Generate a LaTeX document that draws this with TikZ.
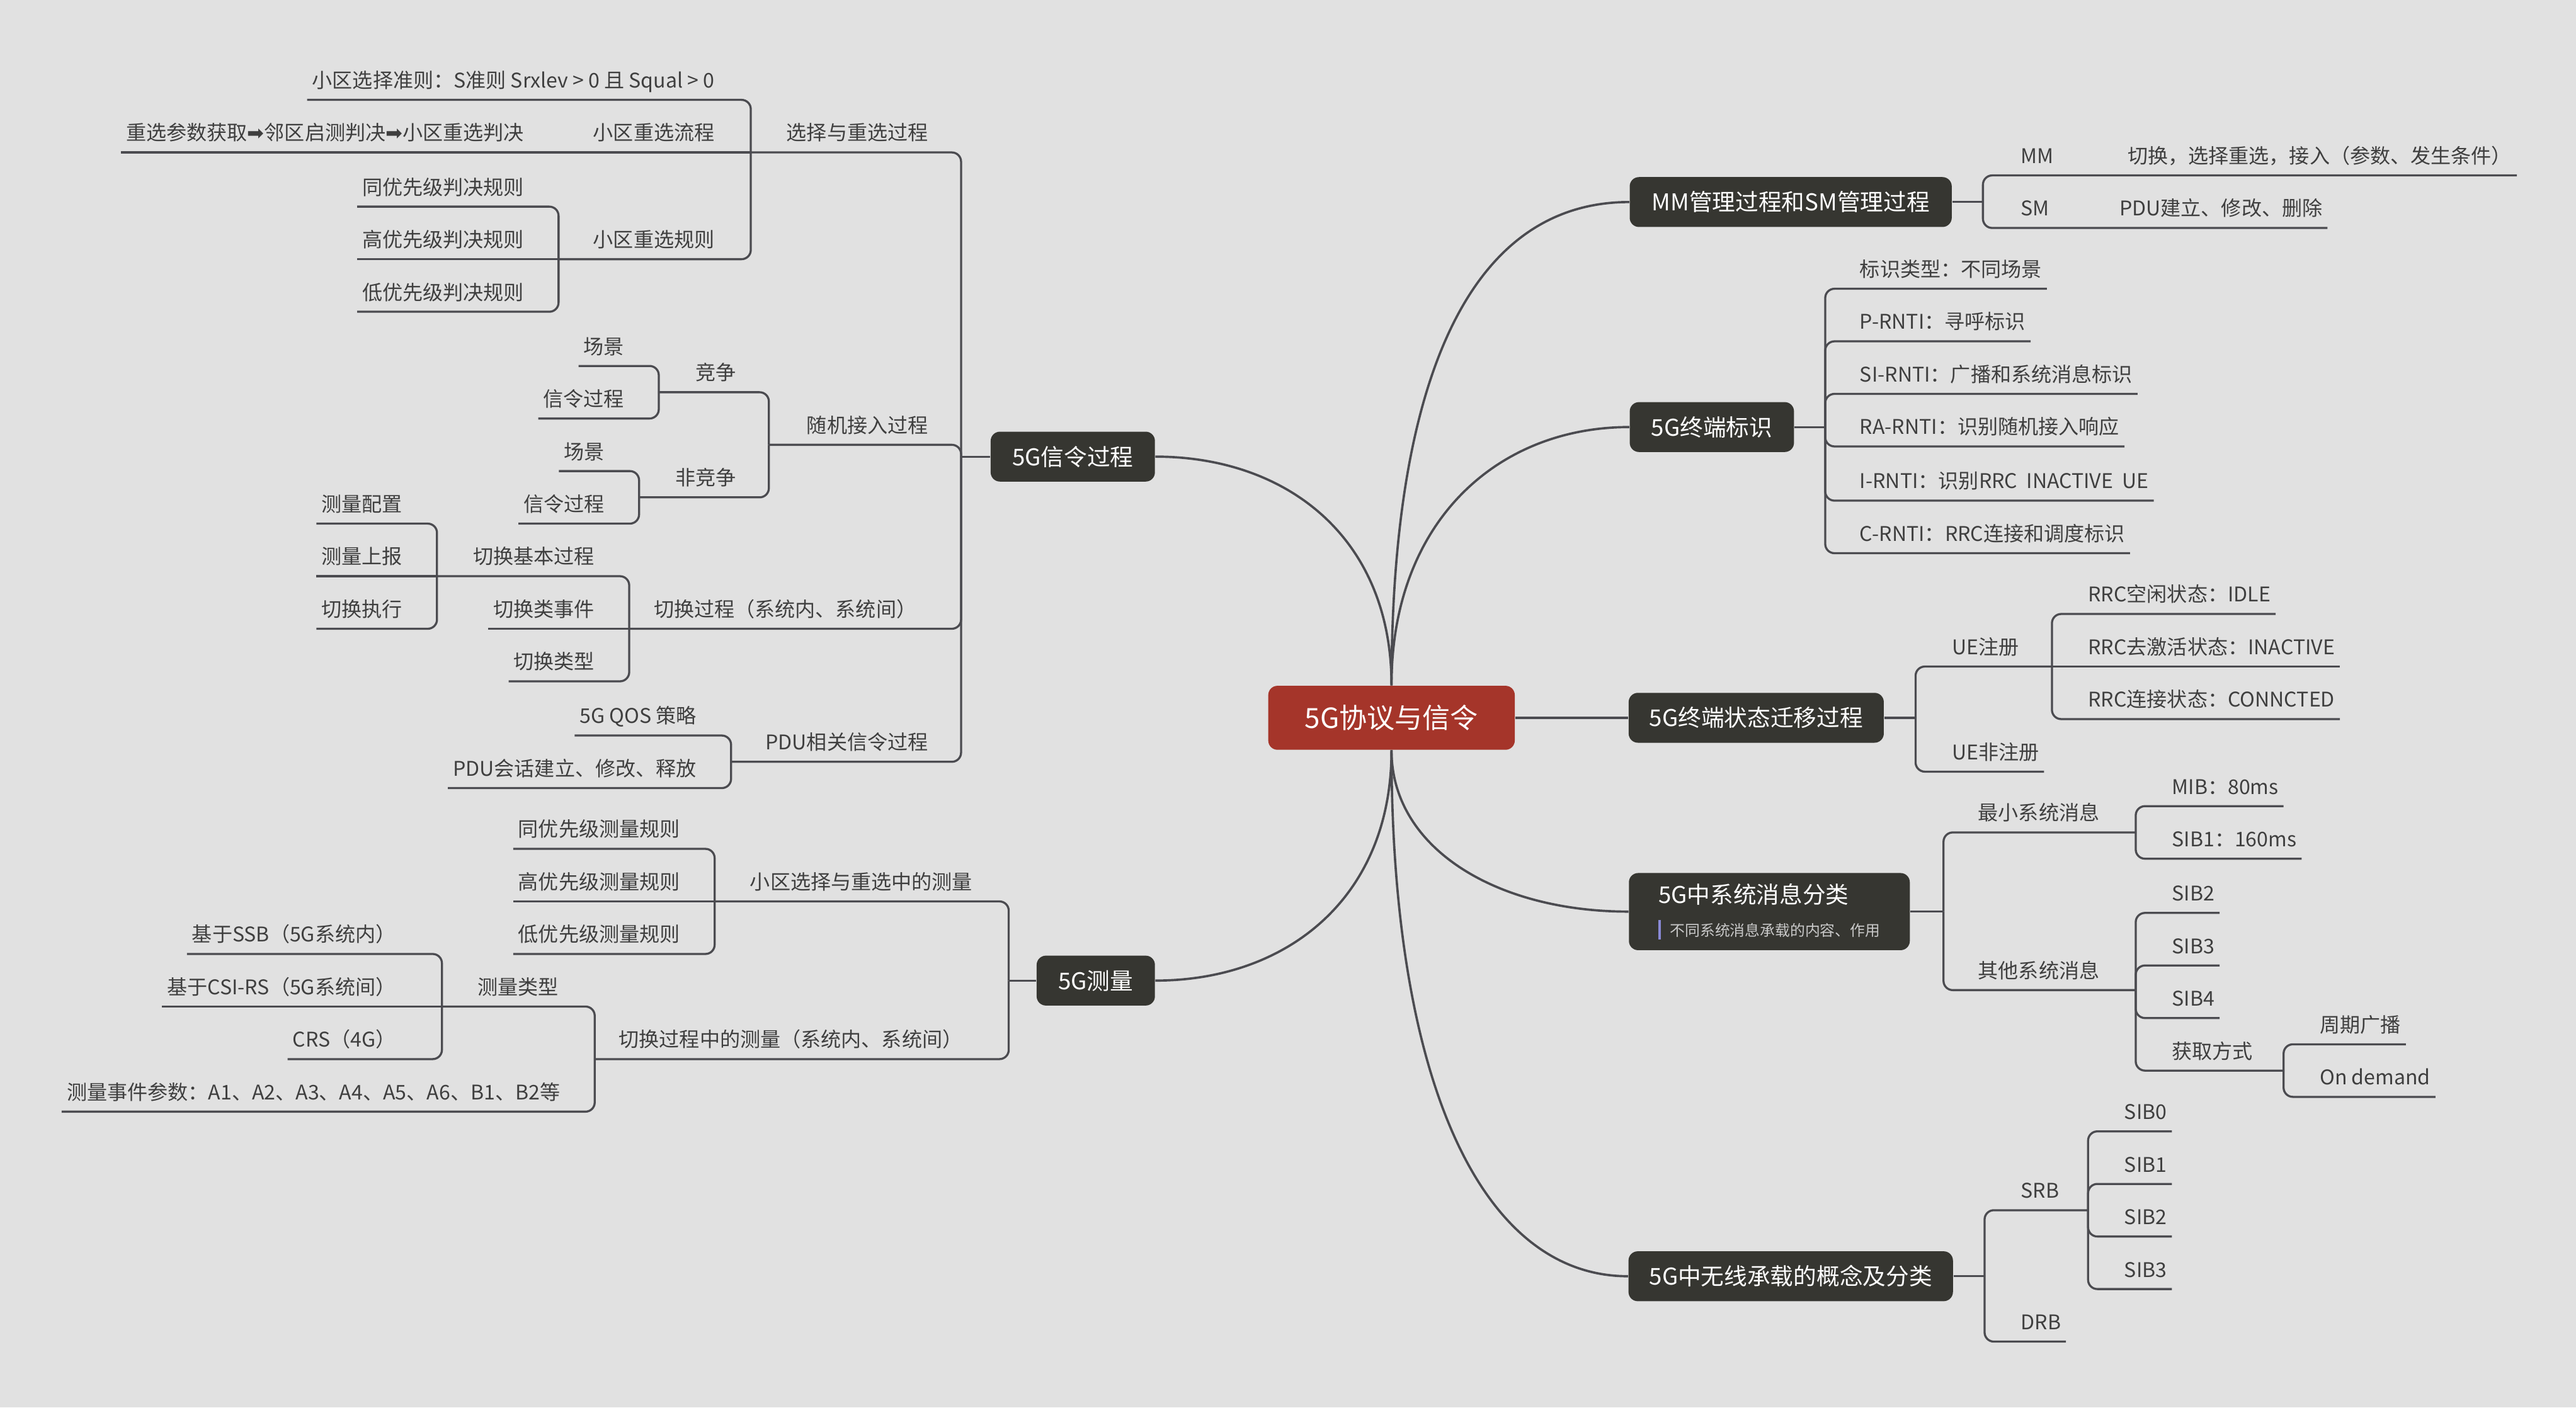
\documentclass[tikz,border=0pt]{standalone}
\usepackage{fontspec}
\setmainfont{Noto Sans CJK SC}
\newfontfamily\arrowsym{DejaVu Sans}
\usepackage{tikz}
\usetikzlibrary{positioning,calc}
\definecolor{bgpaper}{HTML}{E1E1E1}
\definecolor{rootred}{HTML}{A5352A}
\definecolor{topicdark}{HTML}{363631}
\definecolor{linegray}{HTML}{4B4B50}
\definecolor{leafgray}{HTML}{3F3F3F}
\definecolor{notebar}{HTML}{8A8AD6}
\definecolor{notetext}{HTML}{C9C9C9}

\begin{document}
\begin{tikzpicture}[
  x=0.025cm,y=-0.025cm,
  font=\fontsize{8.75}{10}\selectfont,
  line cap=butt,line join=miter,
  root/.style={fill=rootred,text=white,rounded corners=4pt,minimum width=106.7pt,
               minimum height=27.7pt,font=\fontsize{12}{14}\selectfont},
  topic/.style={fill=topicdark,text=white,rounded corners=4pt,minimum height=21.6pt,
                inner xsep=9pt,font=\fontsize{10}{12}\selectfont},
  rleaf/.style={anchor=west,text=leafgray,inner xsep=2pt,text height=9pt,text depth=1.2pt,
                minimum height=17.8pt},
  lleaf/.style={rleaf,anchor=east},
  trunk/.style={draw=linegray,line width=1pt},
  branch/.style={draw=linegray,line width=.9pt,rounded corners=4pt}
]
\useasboundingbox (0,0) rectangle (1568,857);
\fill[bgpaper] (0,0) rectangle (1568,857);

\node[root] (root) at (847,437) {5G协议与信令};
\node[topic,minimum width=139.4pt] (mmsm) at (1090,123) {MM管理过程和SM管理过程};
\node[topic,minimum width=71.1pt] (ident) at (1042,260) {5G终端标识};
\node[topic,minimum width=110.3pt] (state) at (1069,437) {5G终端状态迁移过程};
\node[topic,align=left,minimum width=121.6pt,minimum height=33.4pt] (sysmsg) at (1077,555)
  {5G中系统消息分类\\[2pt]{\fontsize{6.5}{8}\selectfont\textcolor{notebar}{\rule[-1.5pt]{1pt}{8.5pt}}\hspace{4pt}\textcolor{notetext}{不同系统消息承载的内容、作用}}};
\node[topic,minimum width=139.4pt] (bearer) at (1090,777) {5G中无线承载的概念及分类};
\node[topic,minimum width=71.1pt] (sig) at (653,278) {5G信令过程};
\node[topic,minimum width=51.2pt] (meas) at (667,597) {5G测量};

\draw[trunk] (root.north) .. controls +(0,-180) and +(-100,0) .. (mmsm.west);
\draw[trunk] (root.north) .. controls +(0,-100) and +(-80,0) .. (ident.west);
\draw[trunk] (root.east) -- (state.west);
\draw[trunk] (root.south) .. controls +(0,60) and +(-80,0) .. (sysmsg.west);
\draw[trunk] (root.south) .. controls +(0,200) and +(-90,0) .. (bearer.west);
\draw[trunk] (root.north) .. controls +(0,-90) and +(80,0) .. (sig.east);
\draw[trunk] (root.south) .. controls +(0,90) and +(80,0) .. (meas.east);

\node[rleaf] (mm) at (1227,94) {MM};
\node[rleaf] (mmdo) at (1292,94) {切换，选择重选，接入（参数、发生条件）};
\node[rleaf] (sm) at (1227,126) {SM};
\node[rleaf] (smdo) at (1287,126) {PDU建立、修改、删除};
\coordinate (mmsmj) at (1207,0 |- mmsm.east);
\draw[branch] (mmsm.east) -- (mmsmj);
\draw[branch] (mmsmj) |- (mm.south west) -- (mmdo.south east);
\draw[branch] (mmsmj) |- (sm.south west) -- (smdo.south east);

\node[rleaf] (idtype) at (1129,163) {标识类型：不同场景};
\node[rleaf] (prnti) at (1129,195) {P-RNTI：寻呼标识};
\node[rleaf] (sirnti) at (1129,227) {SI-RNTI：广播和系统消息标识};
\node[rleaf] (rarnti) at (1129,259) {RA-RNTI：识别随机接入响应};
\node[rleaf] (irnti) at (1129,292) {I-RNTI：识别RRC~~INACTIVE~~UE};
\node[rleaf] (crnti) at (1129,324) {C-RNTI：RRC连接和调度标识};
\coordinate (identj) at (1111,0 |- ident.east);
\draw[branch] (ident.east) -- (identj);
\draw[branch] (identj) |- (idtype.south west) -- (idtype.south east);
\draw[branch] (identj) |- (prnti.south west) -- (prnti.south east);
\draw[branch] (identj) |- (sirnti.south west) -- (sirnti.south east);
\draw[branch] (identj) |- (rarnti.south west) -- (rarnti.south east);
\draw[branch] (identj) |- (irnti.south west) -- (irnti.south east);
\draw[branch] (identj) |- (crnti.south west) -- (crnti.south east);

\node[rleaf] (ue) at (1185,393) {UE注册};
\node[rleaf] (idle) at (1268,361) {RRC空闲状态：IDLE};
\node[rleaf] (inact) at (1268,393) {RRC去激活状态：INACTIVE};
\node[rleaf] (conn) at (1268,425) {RRC连接状态：CONNCTED};
\node[rleaf] (noreg) at (1185,457) {UE非注册};
\coordinate (statej) at (1166,0 |- state.east);
\coordinate (uej) at (1249,0 |- ue.south);
\draw[branch] (state.east) -- (statej);
\draw[branch] (statej) |- (ue.south west) -- (uej);
\draw[branch] (statej) |- (noreg.south west) -- (noreg.south east);
\draw[branch] (uej) |- (idle.south west) -- (idle.south east);
\draw[branch] (uej) -- (inact.south east);
\draw[branch] (uej) |- (conn.south west) -- (conn.south east);

\node[rleaf] (minsi) at (1201,494) {最小系统消息};
\node[rleaf] (mib) at (1319,478) {MIB：80ms};
\node[rleaf] (sibone) at (1319,510) {SIB1：160ms};
\node[rleaf] (othsi) at (1201,590) {其他系统消息};
\node[rleaf] (sibtwo) at (1319,543) {SIB2};
\node[rleaf] (sibthree) at (1319,575) {SIB3};
\node[rleaf] (sibfour) at (1319,607) {SIB4};
\node[rleaf] (acq) at (1319,639) {获取方式};
\node[rleaf] (period) at (1409,623) {周期广播};
\node[rleaf] (ondem) at (1409,655) {On demand};
\coordinate (sysj) at (1183,0 |- sysmsg.east);
\coordinate (minj) at (1300,0 |- minsi.south);
\coordinate (othj) at (1300,0 |- othsi.south);
\coordinate (acqj) at (1390,0 |- acq.south);
\draw[branch] (sysmsg.east) -- (sysj);
\draw[branch] (sysj) |- (minsi.south west) -- (minj);
\draw[branch] (sysj) |- (othsi.south west) -- (othj);
\draw[branch] (minj) |- (mib.south west) -- (mib.south east);
\draw[branch] (minj) |- (sibone.south west) -- (sibone.south east);
\draw[branch] (othj) |- (sibtwo.south west) -- (sibtwo.south east);
\draw[branch] (othj) |- (sibthree.south west) -- (sibthree.south east);
\draw[branch] (othj) |- (sibfour.south west) -- (sibfour.south east);
\draw[branch] (othj) |- (acq.south west) -- (acqj);
\draw[branch] (acqj) |- (period.south west) -- (period.south east);
\draw[branch] (acqj) |- (ondem.south west) -- (ondem.south east);

\node[rleaf] (srb) at (1227,724) {SRB};
\node[rleaf] (sibz) at (1290,676) {SIB0};
\node[rleaf] (sibo) at (1290,708) {SIB1};
\node[rleaf] (sibt) at (1290,740) {SIB2};
\node[rleaf] (sibh) at (1290,772) {SIB3};
\node[rleaf] (drb) at (1227,804) {DRB};
\coordinate (bearj) at (1208,0 |- bearer.east);
\coordinate (srbj) at (1271,0 |- srb.south);
\draw[branch] (bearer.east) -- (bearj);
\draw[branch] (bearj) |- (srb.south west) -- (srbj);
\draw[branch] (bearj) |- (drb.south west) -- (drb.south east);
\draw[branch] (srbj) |- (sibz.south west) -- (sibz.south east);
\draw[branch] (srbj) |- (sibo.south west) -- (sibo.south east);
\draw[branch] (srbj) |- (sibt.south west) -- (sibt.south east);
\draw[branch] (srbj) |- (sibh.south west) -- (sibh.south east);

\node[lleaf] (selre) at (568,80) {选择与重选过程};
\node[lleaf] (selcrit) at (438,48) {小区选择准则：S准则 Srxlev > 0 且 Squal > 0};
\node[lleaf] (reflow) at (438,80) {小区重选流程};
\node[lleaf] (resteps) at (322,80) {重选参数获取{\arrowsym ➡}邻区启测判决{\arrowsym ➡}小区重选判决};
\node[lleaf] (rerule) at (438,145) {小区重选规则};
\node[lleaf] (rsame) at (322,113) {同优先级判决规则};
\node[lleaf] (rhigh) at (322,145) {高优先级判决规则};
\node[lleaf] (rlow) at (322,177) {低优先级判决规则};
\node[lleaf] (ra) at (568,258) {随机接入过程};
\node[lleaf] (cont) at (451,226) {竞争};
\node[lleaf] (contscene) at (383,210) {场景};
\node[lleaf] (contsig) at (383,242) {信令过程};
\node[lleaf] (ncont) at (451,290) {非竞争};
\node[lleaf] (ncontscene) at (371,274) {场景};
\node[lleaf] (ncontsig) at (371,306) {信令过程};
\node[lleaf] (ho) at (561,370) {切换过程（系统内、系统间）};
\node[lleaf] (hobasic) at (365,338) {切换基本过程};
\node[lleaf] (mcfg) at (248,306) {测量配置};
\node[lleaf] (mrep) at (248,338) {测量上报};
\node[lleaf] (hoexec) at (248,370) {切换执行};
\node[lleaf] (hoevent) at (365,370) {切换类事件};
\node[lleaf] (hotype) at (365,402) {切换类型};
\node[lleaf] (pdu) at (568,451) {PDU相关信令过程};
\node[lleaf] (qos) at (427,435) {5G QOS 策略};
\node[lleaf] (pdusess) at (427,467) {PDU会话建立、修改、释放};
\coordinate (sigj) at (585,0 |- sig.west);
\coordinate (selrej) at (457,0 |- selre.south);
\coordinate (reflowj) at (350,0 |- reflow.south);
\coordinate (reruleJ) at (340,0 |- rerule.south);
\coordinate (raj) at (468,0 |- ra.south);
\coordinate (contj) at (401,0 |- cont.south);
\coordinate (ncontj) at (389,0 |- ncont.south);
\coordinate (hoj) at (383,0 |- ho.south);
\coordinate (hobasicj) at (266,0 |- hobasic.south);
\coordinate (pduj) at (445,0 |- pdu.south);
\draw[branch] (sig.west) -- (sigj);
\draw[branch] (sigj) |- (selre.south east) -- (selrej);
\draw[branch] (selrej) |- (selcrit.south east) -- (selcrit.south west);
\draw[branch] (selrej) -- (reflow.south east) -- (reflowj) -- (resteps.south west);
\draw[branch] (selrej) |- (rerule.south east) -- (reruleJ);
\draw[branch] (reruleJ) |- (rsame.south east) -- (rsame.south west);
\draw[branch] (reruleJ) -- (rhigh.south west);
\draw[branch] (reruleJ) |- (rlow.south east) -- (rlow.south west);
\draw[branch] (sigj) |- (ra.south east) -- (raj);
\draw[branch] (raj) |- (cont.south east) -- (contj);
\draw[branch] (contj) |- (contscene.south east) -- (contscene.south west);
\draw[branch] (contj) |- (contsig.south east) -- (contsig.south west);
\draw[branch] (raj) |- (ncont.south east) -- (ncontj);
\draw[branch] (ncontj) |- (ncontscene.south east) -- (ncontscene.south west);
\draw[branch] (ncontj) |- (ncontsig.south east) -- (ncontsig.south west);
\draw[branch] (sigj) |- (ho.south east) -- (hoj);
\draw[branch] (hoj) |- (hobasic.south east) -- (hobasicj);
\draw[branch] (hobasicj) |- (mcfg.south east) -- (mcfg.south west);
\draw[branch] (hobasicj) -- (mrep.south west);
\draw[branch] (hobasicj) |- (hoexec.south east) -- (hoexec.south west);
\draw[branch] (hoj) -- (hoevent.south west);
\draw[branch] (hoj) |- (hotype.south east) -- (hotype.south west);
\draw[branch] (sigj) |- (pdu.south east) -- (pduj);
\draw[branch] (pduj) |- (qos.south east) -- (qos.south west);
\draw[branch] (pduj) |- (pdusess.south east) -- (pdusess.south west);

\node[lleaf] (cellmeas) at (595,536) {小区选择与重选中的测量};
\node[lleaf] (msame) at (417,504) {同优先级测量规则};
\node[lleaf] (mhigh) at (417,536) {高优先级测量规则};
\node[lleaf] (mlow) at (417,568) {低优先级测量规则};
\node[lleaf] (homeas) at (589,632) {切换过程中的测量（系统内、系统间）};
\node[lleaf] (mtype) at (343,600) {测量类型};
\node[lleaf] (ssb) at (244,568) {基于SSB（5G系统内）};
\node[lleaf] (csirs) at (244,600) {基于CSI-RS（5G系统间）};
\node[lleaf] (crs) at (244,632) {CRS（4G）};
\node[lleaf] (mevent) at (344,664) {测量事件参数：A1、A2、A3、A4、A5、A6、B1、B2等};
\coordinate (measj) at (614,0 |- meas.west);
\coordinate (cellmeasj) at (435,0 |- cellmeas.south);
\coordinate (homeasj) at (362,0 |- homeas.south);
\coordinate (mtypej) at (269,0 |- mtype.south);
\draw[branch] (meas.west) -- (measj);
\draw[branch] (measj) |- (cellmeas.south east) -- (cellmeasj);
\draw[branch] (cellmeasj) |- (msame.south east) -- (msame.south west);
\draw[branch] (cellmeasj) -- (mhigh.south west);
\draw[branch] (cellmeasj) |- (mlow.south east) -- (mlow.south west);
\draw[branch] (measj) |- (homeas.south east) -- (homeasj);
\draw[branch] (homeasj) |- (mtype.south east) -- (mtypej);
\draw[branch] (mtypej) |- (ssb.south east) -- (ssb.south west);
\draw[branch] (mtypej) -- (csirs.south west);
\draw[branch] (mtypej) |- (crs.south east) -- (crs.south west);
\draw[branch] (homeasj) |- (mevent.south east) -- (mevent.south west);
\end{tikzpicture}
\end{document}
